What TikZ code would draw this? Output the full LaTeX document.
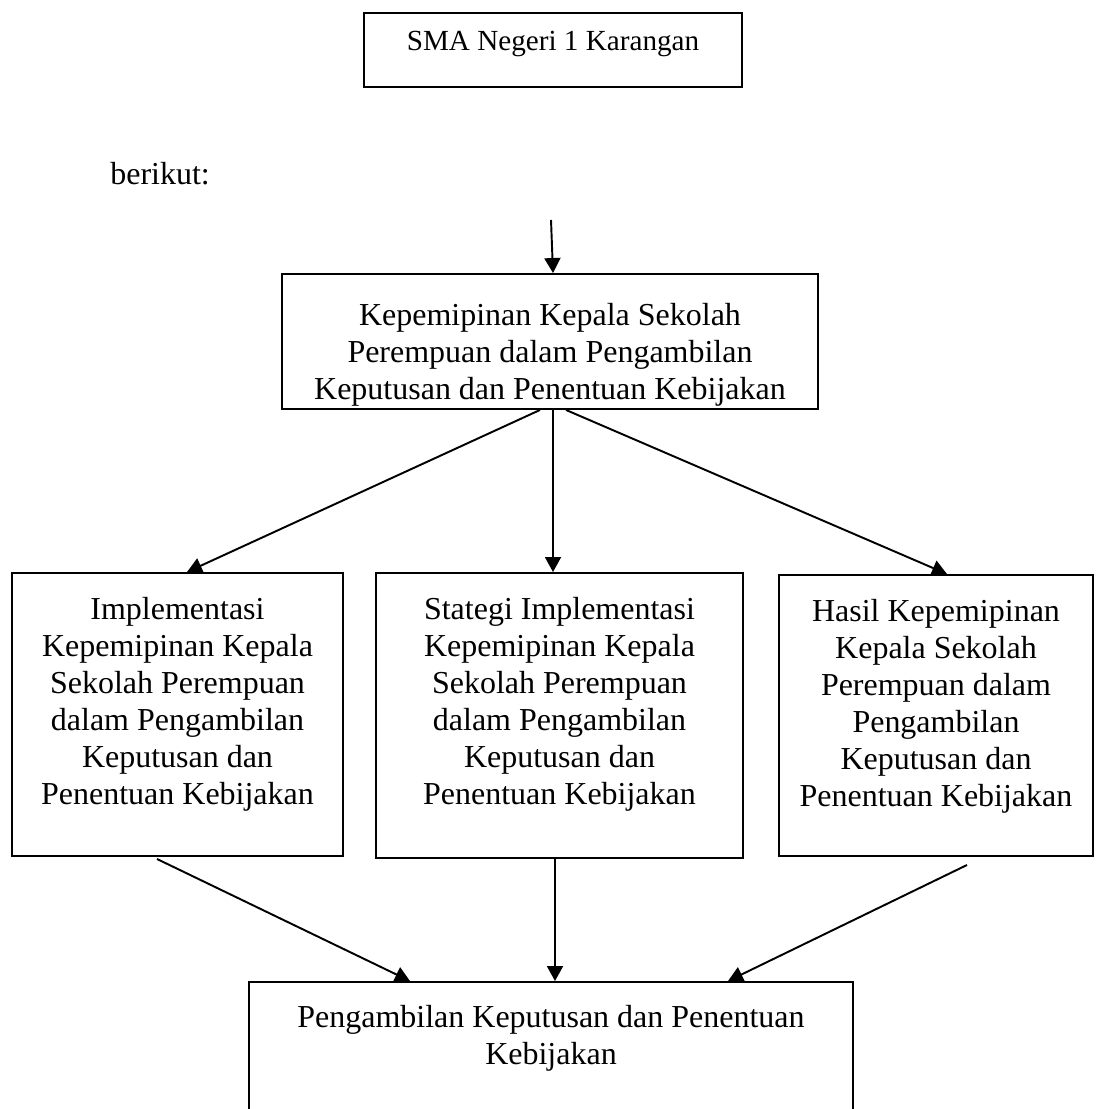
\documentclass[tikz,border=0pt]{standalone}
\usepackage{fontspec}
\setmainfont{Liberation Serif}
\usetikzlibrary{positioning}
\usetikzlibrary{arrows.meta}

\begin{document}
\begin{tikzpicture}[
	kotak/.style = {draw=black, line width=1.1pt, rectangle, inner sep=0pt},
	isi/.style = {inner sep=0pt, align=center, font=\fontsize{18.2}{21.05}\selectfont},
	panah/.style = {black, line width=1.1pt, -{Triangle[length=0.3cm, width=0.32cm]}}
]
	\useasboundingbox (0,0) rectangle (21.92,-22.18);
	\clip (0,0) rectangle (21.92,-22.18);
	% kotak atas
	\node[kotak, minimum width=7.56cm, minimum height=1.48cm] (sma) at (11.06,-1.00) {};
	\node[isi, anchor=north, font=\fontsize{16.6}{19}\selectfont] (sma-t) at ([yshift=-0.38cm]sma.north) {SMA Negeri 1 Karangan};
	\node[isi, anchor=base west] (berikut) at (2.2,-3.7) {berikut:};
	% kotak utama
	\coordinate (masuk) at (11.02,-4.40);
	\node[kotak, minimum width=10.72cm, minimum height=2.70cm] (utama) at (11.00,-6.83) {};
	\node[isi, anchor=north] (utama-t) at ([yshift=-0.59cm]utama.north) {Kepemipinan Kepala Sekolah\\Perempuan dalam Pengambilan\\Keputusan dan Penentuan Kebijakan};
	% tiga kotak tengah
	\node[kotak, minimum width=6.62cm, minimum height=5.66cm] (impl) at (3.55,-14.29) {};
	\node[isi, anchor=north] (impl-t) at ([yshift=-0.50cm]impl.north) {Implementasi\\Kepemipinan Kepala\\Sekolah Perempuan\\dalam Pengambilan\\Keputusan dan\\Penentuan Kebijakan};
	\node[kotak, minimum width=7.34cm, minimum height=5.70cm] (strat) at (11.19,-14.31) {};
	\node[isi, anchor=north] (strat-t) at ([yshift=-0.50cm]strat.north) {Stategi Implementasi\\Kepemipinan Kepala\\Sekolah Perempuan\\dalam Pengambilan\\Keputusan dan\\Penentuan Kebijakan};
	\node[kotak, minimum width=6.28cm, minimum height=5.62cm] (hasil) at (18.72,-14.31) {};
	\node[isi, anchor=north] (hasil-t) at ([yshift=-0.50cm]hasil.north) {Hasil Kepemipinan\\Kepala Sekolah\\Perempuan dalam\\Pengambilan\\Keputusan dan\\Penentuan Kebijakan};
	% kotak bawah
	\node[kotak, minimum width=12.08cm, minimum height=4.00cm] (putusan) at (11.02,-21.64) {};
	\node[isi, anchor=north] (putusan-t) at ([yshift=-0.48cm]putusan.north) {Pengambilan Keputusan dan Penentuan\\Kebijakan};
	% panah
	\draw[panah] (masuk) -- ([xshift=0.06cm]utama.north);
	\draw[panah] ([xshift=-0.20cm]utama.south) -- ([xshift=0.19cm]impl.north);
	\draw[panah] ([xshift=0.06cm]utama.south) -- ([xshift=-0.13cm]strat.north);
	\draw[panah] ([xshift=0.32cm]utama.south) -- ([xshift=0.22cm]hasil.north);
	\draw[panah] ([shift={(-0.41,-0.04)}]impl.south) -- ([xshift=-2.82cm]putusan.north);
	\draw[panah] ([xshift=-0.09cm]strat.south) -- ([xshift=0.08cm]putusan.north);
	\draw[panah] ([shift={(0.62,-0.16)}]hasil.south) -- ([xshift=3.54cm]putusan.north);
\end{tikzpicture}
\end{document}
